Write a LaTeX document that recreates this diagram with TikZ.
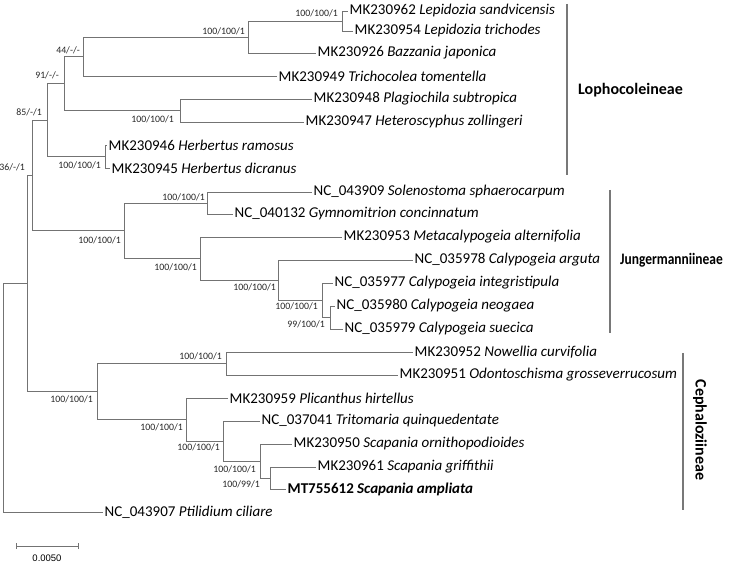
\documentclass[tikz,border=0pt]{standalone}
\usepackage{fontspec}
\setmainfont{Carlito}
\newfontfamily\scalefont{Liberation Sans}
\begin{document}
\begin{tikzpicture}[x=1pt,y=-1pt,
  branch/.style={draw={rgb,255:red,115;green,115;blue,115},line width=0.85pt},
  leaf/.style={anchor=west,inner sep=1.5pt,font=\fontsize{15}{17}\selectfont,text=black},
  boot/.style={anchor=east,inner sep=0pt,font=\fontsize{9.8}{11}\selectfont,text=black!85},
  cladebar/.style={draw={rgb,255:red,120;green,120;blue,120},line width=2.4pt},
  clade/.style={inner sep=0pt,font=\fontsize{16}{18}\selectfont\bfseries,text=black}]
\useasboundingbox (0,0) rectangle (745,564);
% leaves
\coordinate (l1) at (348,11);
\coordinate (l2) at (353,31);
\coordinate (l3) at (316,53);
\coordinate (l4) at (277,76);
\coordinate (l5) at (312,99);
\coordinate (l6) at (304,122);
\coordinate (l7) at (107,145);
\coordinate (l8) at (110,168);
\coordinate (l9) at (312,192);
\coordinate (l10) at (233,214);
\coordinate (l11) at (342,237);
\coordinate (l12) at (413,260);
\coordinate (l13) at (333,283);
\coordinate (l14) at (335,306);
\coordinate (l15) at (343,329);
\coordinate (l16) at (413,352);
\coordinate (l17) at (398,375);
\coordinate (l18) at (228,398);
\coordinate (l19) at (260,421);
\coordinate (l20) at (292,444);
\coordinate (l21) at (316,467);
\coordinate (l22) at (286,489);
\coordinate (l23) at (103,512);
% internal nodes
\coordinate (G) at (342,21);
\coordinate (F) at (248,37);
\coordinate (E) at (83,56.5);
\coordinate (H) at (180,110.5);
\coordinate (D) at (64,83.5);
\coordinate (I) at (105,156.5);
\coordinate (C) at (47,120);
\coordinate (J1) at (207,203);
\coordinate (J4) at (330,317.5);
\coordinate (J3b) at (322,300.2);
\coordinate (J3) at (278,280.1);
\coordinate (J2) at (200,258.5);
\coordinate (J0) at (124,230.8);
\coordinate (B) at (32,175.4);
\coordinate (K1) at (226,363.5);
\coordinate (K5) at (270,478);
\coordinate (K4) at (260,461);
\coordinate (K3) at (223,441);
\coordinate (K2) at (186,419.5);
\coordinate (K0) at (97,391.7);
\coordinate (A) at (27,283.5);
\coordinate (R) at (3,397.8);
% branches
\draw[branch] (G) |- (l1); \draw[branch] (G) |- (l2);
\draw[branch] (F) |- (G); \draw[branch] (F) |- (l3);
\draw[branch] (E) |- (F); \draw[branch] (E) |- (l4);
\draw[branch] (H) |- (l5); \draw[branch] (H) |- (l6);
\draw[branch] (D) |- (E); \draw[branch] (D) |- (H);
\draw[branch] (I) |- (l7); \draw[branch] (I) |- (l8);
\draw[branch] (C) |- (D); \draw[branch] (C) |- (I);
\draw[branch] (J1) |- (l9); \draw[branch] (J1) |- (l10);
\draw[branch] (J4) |- (l14); \draw[branch] (J4) |- (l15);
\draw[branch] (J3b) |- (l13); \draw[branch] (J3b) |- (J4);
\draw[branch] (J3) |- (l12); \draw[branch] (J3) |- (J3b);
\draw[branch] (J2) |- (l11); \draw[branch] (J2) |- (J3);
\draw[branch] (J0) |- (J1); \draw[branch] (J0) |- (J2);
\draw[branch] (B) |- (C); \draw[branch] (B) |- (J0);
\draw[branch] (K1) |- (l16); \draw[branch] (K1) |- (l17);
\draw[branch] (K5) |- (l21); \draw[branch] (K5) |- (l22);
\draw[branch] (K4) |- (l20); \draw[branch] (K4) |- (K5);
\draw[branch] (K3) |- (l19); \draw[branch] (K3) |- (K4);
\draw[branch] (K2) |- (l18); \draw[branch] (K2) |- (K3);
\draw[branch] (K0) |- (K1); \draw[branch] (K0) |- (K2);
\draw[branch] (A) |- (B); \draw[branch] (A) |- (K0);
\draw[branch] (R) |- (A); \draw[branch] (R) |- (l23);
% leaf labels
\node[leaf] (t1) at (l1) {MK230962 \textit{Lepidozia sandvicensis}};
\node[leaf] (t2) at (l2) {MK230954 \textit{Lepidozia trichodes}};
\node[leaf] (t3) at (l3) {MK230926 \textit{Bazzania japonica}};
\node[leaf] (t4) at (l4) {MK230949 \textit{Trichocolea tomentella}};
\node[leaf] (t5) at (l5) {MK230948 \textit{Plagiochila subtropica}};
\node[leaf] (t6) at (l6) {MK230947 \textit{Heteroscyphus zollingeri}};
\node[leaf] (t7) at (l7) {MK230946 \textit{Herbertus ramosus}};
\node[leaf] (t8) at (l8) {MK230945 \textit{Herbertus dicranus}};
\node[leaf] (t9) at (l9) {NC\_043909 \textit{Solenostoma sphaerocarpum}};
\node[leaf] (t10) at (l10) {NC\_040132 \textit{Gymnomitrion concinnatum}};
\node[leaf] (t11) at (l11) {MK230953 \textit{Metacalypogeia alternifolia}};
\node[leaf] (t12) at (l12) {NC\_035978 \textit{Calypogeia arguta}};
\node[leaf] (t13) at (l13) {NC\_035977 \textit{Calypogeia integristipula}};
\node[leaf] (t14) at (l14) {NC\_035980 \textit{Calypogeia neogaea}};
\node[leaf] (t15) at (l15) {NC\_035979 \textit{Calypogeia suecica}};
\node[leaf] (t16) at (l16) {MK230952 \textit{Nowellia curvifolia}};
\node[leaf] (t17) at (l17) {MK230951 \textit{Odontoschisma grosseverrucosum}};
\node[leaf] (t18) at (l18) {MK230959 \textit{Plicanthus hirtellus}};
\node[leaf] (t19) at (l19) {NC\_037041 \textit{Tritomaria quinquedentate}};
\node[leaf] (t20) at (l20) {MK230950 \textit{Scapania ornithopodioides}};
\node[leaf] (t21) at (l21) {MK230961 \textit{Scapania griffithii}};
\node[leaf] (t22) at (l22) {\textbf{MT755612 \textit{Scapania ampliata}}};
\node[leaf] (t23) at (l23) {NC\_043907 \textit{Ptilidium ciliare}};
% support values
\node[boot] (bG) at (338,13) {100/100/1};
\node[boot] (bF) at (245,31) {100/100/1};
\node[boot] (bE) at (80,50) {44/-/-};
\node[boot] (bD) at (59,75) {91/-/-};
\node[boot] (bC) at (42,112) {85/-/1};
\node[boot] (bH) at (174,119) {100/100/1};
\node[boot] (bI) at (101,165) {100/100/1};
\node[boot] (bA) at (25,167) {36/-/1};
\node[boot] (bJ1) at (205,197) {100/100/1};
\node[boot] (bJ0) at (121,240) {100/100/1};
\node[boot] (bJ2) at (197,267) {100/100/1};
\node[boot] (bJ3) at (276,287) {100/100/1};
\node[boot] (bJ3b) at (318,306) {100/100/1};
\node[boot] (bJ4) at (325,324) {99/100/1};
\node[boot] (bK1) at (222,356) {100/100/1};
\node[boot] (bK0) at (93,399) {100/100/1};
\node[boot] (bK2) at (183,427) {100/100/1};
\node[boot] (bK3) at (220,447) {100/100/1};
\node[boot] (bK4) at (256,469) {100/100/1};
\node[boot] (bK5) at (260,484) {100/99/1};
% clade bars
\coordinate (c1a) at (567,4); \coordinate (c1b) at (567,175);
\coordinate (c2a) at (610,190); \coordinate (c2b) at (610,333);
\coordinate (c3a) at (683,353); \coordinate (c3b) at (683,510);
\draw[cladebar] (c1a) -- (c1b);
\draw[cladebar] (c2a) -- (c2b);
\draw[cladebar] (c3a) -- (c3b);
\node[clade,anchor=west] (n1) at (578,90) {Lophocoleineae};
\node[clade,anchor=west] (n2) at (620,260) {\scalebox{0.84}[1]{Jungermanniineae}};
\node[clade,rotate=-90] (n3) at (700,430) {Cephaloziineae};
% scale bar
\coordinate (s1) at (16,546); \coordinate (s2) at (78,546);
\draw[branch,line width=0.9pt] (s1) -- (s2);
\draw[branch,line width=0.9pt] ([yshift=-3]s1) -- ([yshift=3]s1);
\draw[branch,line width=0.9pt] ([yshift=-3]s2) -- ([yshift=3]s2);
\node[inner sep=0pt,font=\scalefont\fontsize{9.5}{10}\selectfont] (sl) at (47,558) {0.0050};
\end{tikzpicture}
\end{document}
